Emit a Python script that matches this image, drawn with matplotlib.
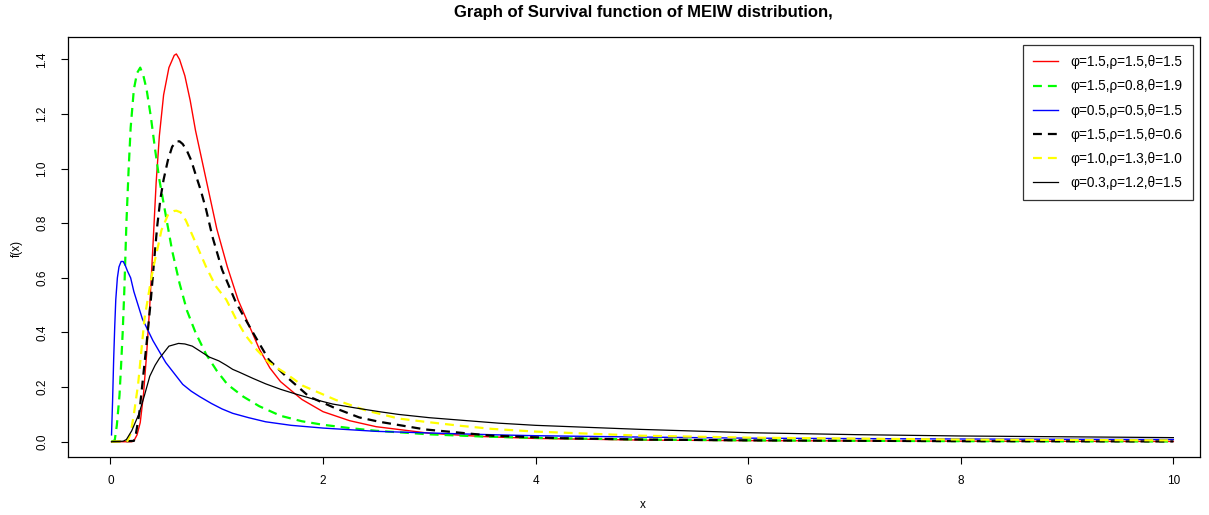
import matplotlib
matplotlib.use("Agg")
from matplotlib import pyplot as plt

plt.rcParams["font.family"] = ["Liberation Sans", "DejaVu Sans"]

# ======================
# values
# ======================
x_red = [0.01, 0.2, 0.22, 0.25, 0.28, 0.31, 0.34, 0.37, 0.4, 0.43, 0.46, 0.5, 0.55, 0.6, 0.62,
         0.65, 0.7, 0.75, 0.8, 0.85, 0.9, 1.0, 1.1, 1.2, 1.3, 1.4, 1.5, 1.6, 1.8, 2.0, 2.25,
         2.5, 3.0, 3.5, 4.0, 5.0, 6.0, 8.0, 10.0]
y_red = [0, 0, 0.003, 0.025, 0.07, 0.17, 0.32, 0.5, 0.72, 0.95, 1.12, 1.27, 1.37, 1.415, 1.42,
         1.4, 1.34, 1.25, 1.14, 1.05, 0.96, 0.78, 0.64, 0.52, 0.43, 0.34, 0.27, 0.22, 0.155, 0.11, 0.077,
         0.055, 0.031, 0.019, 0.012, 0.006, 0.004, 0.002, 0.001]

x_green = [0.01, 0.04, 0.06, 0.085, 0.1, 0.115, 0.13, 0.15, 0.17, 0.19, 0.22, 0.25, 0.28, 0.31,
           0.34, 0.38, 0.42, 0.46, 0.52, 0.58, 0.65, 0.72, 0.8, 0.9, 1.0, 1.1, 1.25, 1.4, 1.6,
           1.8, 2.0, 2.25, 2.5, 3.0, 3.5, 4.0, 5.0, 6.0, 8.0, 10.0]
y_green = [0, 0.005, 0.06, 0.17, 0.28, 0.4, 0.55, 0.8, 0.99, 1.15, 1.29, 1.35, 1.37, 1.34,
           1.29, 1.19, 1.07, 0.96, 0.83, 0.7, 0.58, 0.48, 0.4, 0.32, 0.26, 0.21, 0.165, 0.13, 0.095,
           0.075, 0.062, 0.05, 0.04, 0.027, 0.019, 0.014, 0.008, 0.005, 0.002, 0.001]

x_blue = [0.01, 0.02, 0.03, 0.04, 0.05, 0.065, 0.08, 0.1, 0.12, 0.14, 0.16, 0.19, 0.22, 0.26,
          0.3, 0.35, 0.4, 0.46, 0.52, 0.6, 0.68, 0.76, 0.84, 0.95, 1.05, 1.15, 1.3, 1.46, 1.7,
          2.0, 2.5, 3.0, 3.65, 4.0, 5.0, 6.0, 8.0, 10.0]
y_blue = [0.025, 0.15, 0.3, 0.42, 0.52, 0.6, 0.64, 0.66, 0.66, 0.645, 0.625, 0.6, 0.55, 0.5,
          0.45, 0.41, 0.37, 0.33, 0.29, 0.25, 0.21, 0.185, 0.165, 0.14, 0.12, 0.104, 0.088, 0.073, 0.06,
          0.05, 0.038, 0.032, 0.025, 0.022, 0.017, 0.013, 0.01, 0.008]

x_blackd = [0.01, 0.22, 0.24, 0.27, 0.3, 0.34, 0.38, 0.41, 0.44, 0.47, 0.5, 0.54, 0.58, 0.62,
            0.65, 0.68, 0.72, 0.76, 0.8, 0.85, 0.9, 0.96, 1.05, 1.18, 1.34, 1.49, 1.65, 1.87,
            2.12, 2.34, 2.53, 2.96, 3.59, 4.22, 5.0, 6.0, 8.0, 10.0]
y_blackd = [0, 0.003, 0.03, 0.1, 0.21, 0.36, 0.52, 0.66, 0.79, 0.89, 0.96, 1.03, 1.08, 1.1,
            1.1, 1.09, 1.065, 1.03, 0.98, 0.92, 0.85, 0.75, 0.63, 0.51, 0.4, 0.3, 0.24, 0.165,
            0.122, 0.089, 0.073, 0.045, 0.022, 0.013, 0.008, 0.005, 0.002, 0.001]

x_yellow = [0.01, 0.16, 0.19, 0.22, 0.26, 0.29, 0.32, 0.35, 0.38, 0.41, 0.45, 0.48, 0.54, 0.6,
            0.62, 0.66, 0.71, 0.8, 0.9, 0.99, 1.09, 1.18, 1.27, 1.38, 1.49, 1.65, 1.81, 2.12,
            2.4, 2.71, 2.96, 3.3, 3.59, 4.0, 5.0, 6.0, 8.0, 10.0]
y_yellow = [0, 0.003, 0.03, 0.1, 0.21, 0.33, 0.45, 0.52, 0.59, 0.65, 0.72, 0.775, 0.83, 0.845,
            0.846, 0.84, 0.81, 0.73, 0.64, 0.57, 0.52, 0.45, 0.39, 0.335, 0.29, 0.25, 0.205, 0.153,
            0.115, 0.085, 0.073, 0.058, 0.047, 0.037, 0.022, 0.015, 0.008, 0.005]

x_blacks = [0.01, 0.12, 0.15, 0.2, 0.27, 0.32, 0.37, 0.42, 0.46, 0.55, 0.64, 0.7, 0.77, 0.85,
            0.93, 1.02, 1.09, 1.15, 1.21, 1.34, 1.46, 1.6, 1.74, 1.9, 2.09, 2.3, 2.53, 2.71, 3.0,
            3.65, 4.0, 5.0, 6.0, 7.0, 8.0, 9.0, 10.0]
y_blacks = [0, 0.002, 0.008, 0.04, 0.104, 0.17, 0.24, 0.28, 0.305, 0.35, 0.36, 0.358, 0.35, 0.33,
            0.31, 0.296, 0.28, 0.265, 0.255, 0.232, 0.212, 0.192, 0.175, 0.157, 0.138, 0.124, 0.11,
            0.1, 0.088, 0.068, 0.06, 0.045, 0.033, 0.026, 0.021, 0.018, 0.015]

labels = ["φ=1.5,ρ=1.5,θ=1.5", "φ=1.5,ρ=0.8,θ=1.9", "φ=0.5,ρ=0.5,θ=1.5",
          "φ=1.5,ρ=1.5,θ=0.6", "φ=1.0,ρ=1.3,θ=1.0", "φ=0.3,ρ=1.2,θ=1.5"]

x_ticks = [0, 2, 4, 6, 8, 10]
y_ticks = [0.0, 0.2, 0.4, 0.6, 0.8, 1.0, 1.2, 1.4]

# ======================
# plot
# ======================
fig = plt.figure(figsize=(12.09, 5.15), dpi=100)
ax = fig.add_axes([0.0562, 0.1126, 0.9363, 0.8155])

dash = (0, (4, 2.7))
ax.plot(x_red, y_red, color="#FF0000", lw=1.0, label=labels[0])
ax.plot(x_green, y_green, color="#00FF00", lw=1.6, ls=dash, label=labels[1])
ax.plot(x_blue, y_blue, color="#0000FF", lw=1.0, label=labels[2])
ax.plot(x_blackd, y_blackd, color="black", lw=1.6, ls=dash, label=labels[3])
ax.plot(x_yellow, y_yellow, color="#FFFF00", lw=1.6, ls=dash, label=labels[4])
ax.plot(x_blacks, y_blacks, color="black", lw=0.9, label=labels[5])

ax.set_xlim(-0.4, 10.25)
ax.set_ylim(-0.056, 1.482)
ax.set_xticks(x_ticks)
ax.set_xticklabels([str(t) for t in x_ticks])
ax.set_yticks(y_ticks)
ax.set_yticklabels(["%.1f" % t for t in y_ticks], rotation=90, va="center")
ax.tick_params(direction="out", length=5, width=0.8, labelsize=8.5)
ax.tick_params(axis="y", pad=9)
ax.tick_params(axis="x", pad=8)
for s in ax.spines.values():
    s.set_linewidth(0.9)

fig.text(0.532, 0.008, "x", ha="center", va="bottom", fontsize=8.5)
fig.text(0.009, 0.518, "f(x)", ha="left", va="center", rotation=90, fontsize=8.5)
fig.text(0.532, 1 - 12 / 515, "Graph of Survival function of MEIW distribution,",
         ha="center", va="center", fontsize=12, fontweight="bold")

leg = ax.legend(loc="upper left", bbox_to_anchor=(0.8436, 0.981), borderaxespad=0,
                fontsize=9.8, frameon=True, fancybox=False, handlelength=1.85,
                handletextpad=0.9, labelspacing=0.75, borderpad=0.75)
leg.get_frame().set_edgecolor("black")
leg.get_frame().set_linewidth(0.9)

plt.savefig("out.png", dpi=100)
